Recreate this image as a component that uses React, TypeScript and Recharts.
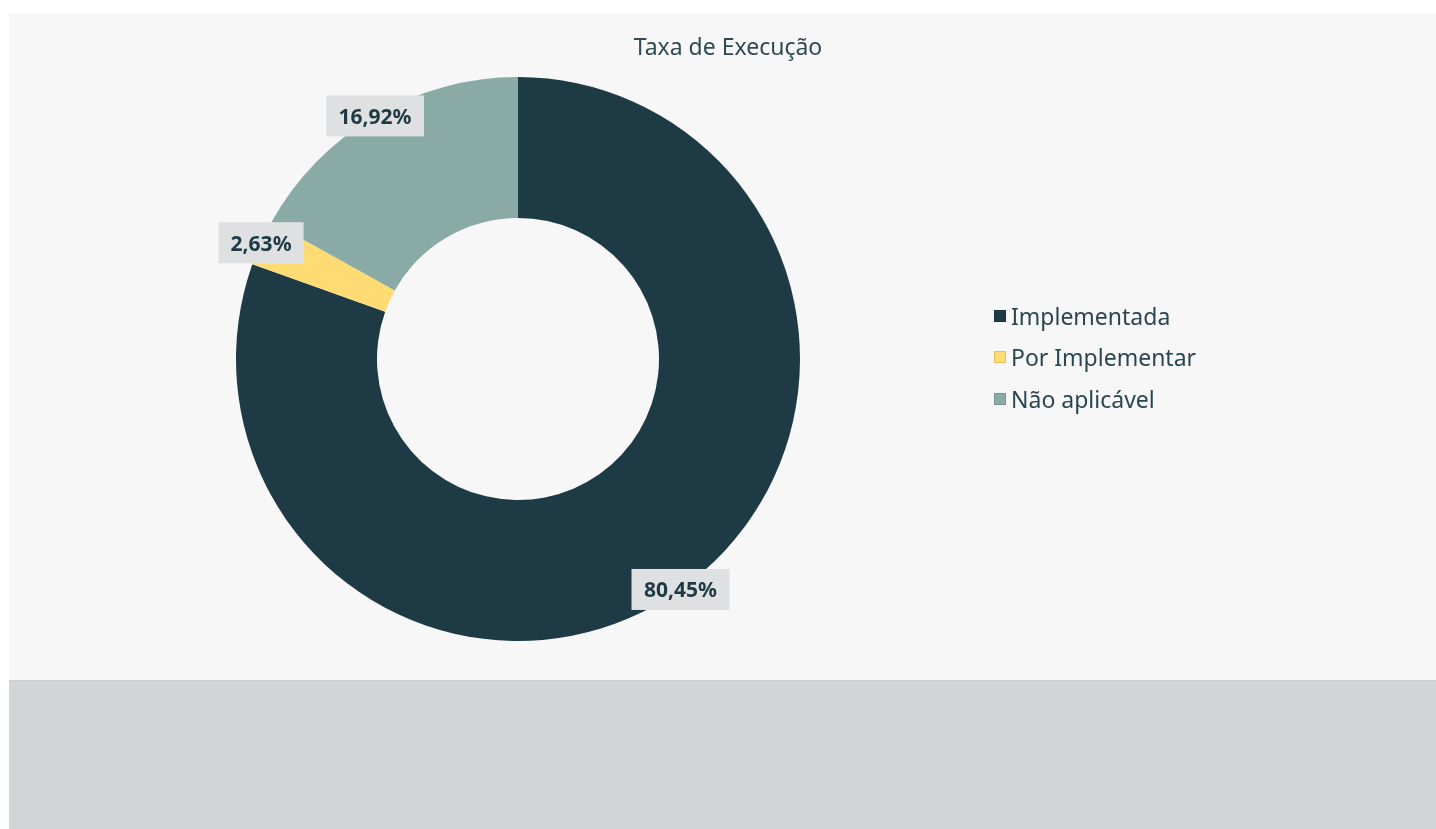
import { Legend, Pie, PieChart, Cell } from 'recharts'

const categories = ['Implementada', 'Por Implementar', 'Não aplicável']
const shares = [80.45, 2.63, 16.92]
const colors = ['#1e3a44', '#ffdb73', '#8aaaa5']

const data = categories.map((name, i) => ({ name, value: shares[i] }))

const FONT = '"Noto Sans", sans-serif'
const INK = '#1e3a44'
const RAD = Math.PI / 180

function fmt(v: number): string {
	return v.toFixed(2).replace('.', ',') + '%'
}

/** Etiqueta com caixa cinzenta, centrada no raio exterior da fatia. */
function SliceLabel(props: any) {
	const { cx, cy, midAngle, outerRadius, value } = props
	const x = cx + outerRadius * Math.cos(-midAngle * RAD)
	const y = cy + outerRadius * Math.sin(-midAngle * RAD)
	const text = fmt(value)
	const w = text.length * 13 + 20
	const h = 41
	return (
		<g>
			<rect x={x - w / 2} y={y - h / 2} width={w} height={h} fill='#dfe0e1' />
			<text
				x={x}
				y={y}
				textAnchor='middle'
				dominantBaseline='central'
				fill={INK}
				fontFamily={FONT}
				fontWeight={700}
				fontSize={21}
			>
				{text}
			</text>
		</g>
	)
}

function LegendList() {
	return (
		<ul style={{ listStyle: 'none', margin: 0, padding: 0 }}>
			{categories.map((name, i) => (
				<li
					key={name}
					style={{
						display: 'flex',
						alignItems: 'center',
						height: 41.5,
						fontFamily: FONT,
						fontSize: 23,
						color: '#2a4650'
					}}
				>
					<span
						style={{
							width: 10,
							height: 10,
							background: colors[i],
							border: '1px solid rgba(0,0,0,0.12)',
							marginRight: 5
						}}
					/>
					{name}
				</li>
			))}
		</ul>
	)
}

export default function App() {
	return (
		<div
			style={{
				position: 'fixed',
				left: 9,
				top: 13,
				width: 1427,
				height: 816
			}}
		>
			<div
				style={{
					position: 'relative',
					width: 1427,
					height: 668,
					background: '#f7f7f7',
					borderBottom: '1px solid #c9cdd0',
					boxSizing: 'border-box'
				}}
			>
				<div
					style={{
						position: 'absolute',
						top: 17,
						left: 0,
						width: 1438,
						textAlign: 'center',
						fontFamily: FONT,
						fontSize: 23,
						fontWeight: 400,
						color: '#2e4a52'
					}}
				>
					Taxa de Execução
				</div>
				<PieChart width={1427} height={668} style={{ position: 'absolute', top: 0, left: 0 }}>
					<Pie
						data={data}
						dataKey='value'
						nameKey='name'
						cx={504}
						cy={341}
						outerRadius={282}
						innerRadius={141}
						startAngle={90}
						endAngle={-270}
						stroke='none'
						labelLine={false}
						label={SliceLabel}
						isAnimationActive={false}
					>
						{data.map((d, i) => (
							<Cell key={d.name} fill={colors[i]} />
						))}
					</Pie>
					<Legend
						layout='vertical'
						content={<LegendList />}
						wrapperStyle={{ left: 985, top: 282, width: 300 }}
					/>
				</PieChart>
			</div>
			<div style={{ width: 1427, height: 148, background: '#d1d5d8' }} />
		</div>
	)
}
